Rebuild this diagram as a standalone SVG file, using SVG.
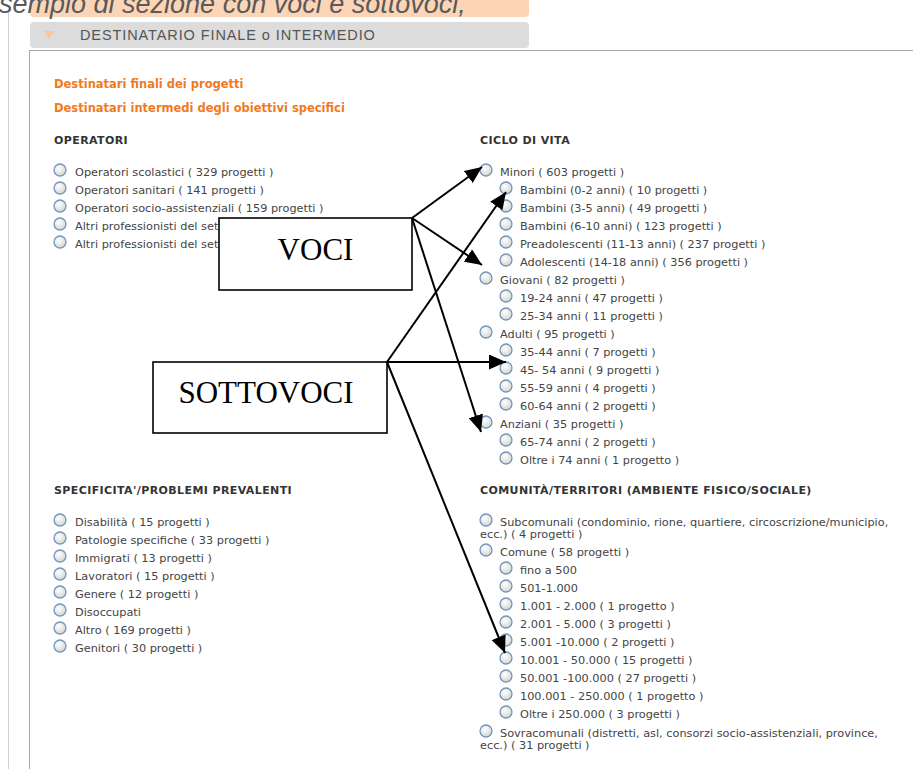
<svg xmlns="http://www.w3.org/2000/svg" xmlns:xlink="http://www.w3.org/1999/xlink" width="913" height="769" viewBox="0 0 913 769">
<style>
.cap{font-family:"Liberation Sans",Arial,sans-serif;font-style:italic;font-size:27px;fill:#5a5a5a}
.bar{font-family:"Liberation Sans",Arial,sans-serif;font-size:14.5px;letter-spacing:0.9px;fill:#555}
.or{font-family:"DejaVu Sans",Verdana,sans-serif;font-weight:bold;font-size:11.5px;fill:#f07a22}
.hd{font-family:"DejaVu Sans",Verdana,sans-serif;font-weight:bold;font-size:11px;letter-spacing:0.4px;fill:#333}
.it{font-family:"DejaVu Sans",Verdana,sans-serif;font-size:11.3px;fill:#444}
.lbl{font-family:"Liberation Serif","Times New Roman",serif;font-size:31px;fill:#000;text-anchor:middle}
.box{fill:#fff;stroke:#000;stroke-width:1.6}
.con{stroke:#000;stroke-width:2;fill:none;marker-end:url(#ah)}
</style>
<defs>
<radialGradient id="rg" cx="0.4" cy="0.35" r="0.7">
<stop offset="0" stop-color="#ffffff"/>
<stop offset="1" stop-color="#d2d2ce"/>
</radialGradient>
<g id="radio"><circle r="6" fill="url(#rg)" stroke="#7496bb" stroke-width="1.3"/></g>
<marker id="ah" markerUnits="userSpaceOnUse" markerWidth="18" markerHeight="15" refX="17" refY="7.5" orient="auto"><path d="M0,0 L17,7.5 L0,15 z" fill="#000"/></marker>
</defs>
<rect width="913" height="769" fill="#fff"/>

<g id="frame">
<line x1="8.5" y1="10" x2="8.5" y2="769" stroke="#cfcfcf" stroke-width="1"/>
<line x1="29.5" y1="50" x2="29.5" y2="769" stroke="#a8a8a8" stroke-width="1"/>
<line x1="29.5" y1="50.5" x2="913" y2="50.5" stroke="#a8a8a8" stroke-width="1"/>
<rect x="30" y="-10" width="499" height="27" rx="4" fill="#fcd5b6"/>
<rect x="30" y="22" width="499" height="26" rx="4" fill="#dcdcdc"/>
<polygon points="44,31 54,31 49,39" fill="#f7c7a1"/>
<text class="bar" x="80" y="40">DESTINATARIO FINALE o INTERMEDIO</text>
<text class="cap" x="-19" y="13">Esempio di sezione con voci e sottovoci,</text>
</g>

<g id="intro">
<text class="or" x="54" y="88">Destinatari finali dei progetti</text>
<text class="or" x="54" y="112">Destinatari intermedi degli obiettivi specifici</text>
</g>

<g id="operatori">
<text class="hd" x="54" y="144">OPERATORI</text>
<use href="#radio" x="60" y="170"/><text class="it" x="75" y="175.5">Operatori scolastici ( 329 progetti )</text>
<use href="#radio" x="60" y="188"/><text class="it" x="75" y="193.5">Operatori sanitari ( 141 progetti )</text>
<use href="#radio" x="60" y="206"/><text class="it" x="75" y="211.5">Operatori socio-assistenziali ( 159 progetti )</text>
<use href="#radio" x="60" y="224"/><text class="it" x="75" y="229.5">Altri professionisti del set</text>
<use href="#radio" x="60" y="242"/><text class="it" x="75" y="247.5">Altri professionisti del set</text>
</g>

<g id="ciclo">
<text class="hd" x="480" y="144">CICLO DI VITA</text>
<use href="#radio" x="486" y="170"/><text class="it" x="500" y="175.5">Minori ( 603 progetti )</text>
<use href="#radio" x="506" y="188"/><text class="it" x="520" y="193.5">Bambini (0-2 anni) ( 10 progetti )</text>
<use href="#radio" x="506" y="206"/><text class="it" x="520" y="211.5">Bambini (3-5 anni) ( 49 progetti )</text>
<use href="#radio" x="506" y="224"/><text class="it" x="520" y="229.5">Bambini (6-10 anni) ( 123 progetti )</text>
<use href="#radio" x="506" y="242"/><text class="it" x="520" y="247.5">Preadolescenti (11-13 anni) ( 237 progetti )</text>
<use href="#radio" x="506" y="260"/><text class="it" x="520" y="265.5">Adolescenti (14-18 anni) ( 356 progetti )</text>
<use href="#radio" x="486" y="278"/><text class="it" x="500" y="283.5">Giovani ( 82 progetti )</text>
<use href="#radio" x="506" y="296"/><text class="it" x="520" y="301.5">19-24 anni ( 47 progetti )</text>
<use href="#radio" x="506" y="314"/><text class="it" x="520" y="319.5">25-34 anni ( 11 progetti )</text>
<use href="#radio" x="486" y="332"/><text class="it" x="500" y="337.5">Adulti ( 95 progetti )</text>
<use href="#radio" x="506" y="350"/><text class="it" x="520" y="355.5">35-44 anni ( 7 progetti )</text>
<use href="#radio" x="506" y="368"/><text class="it" x="520" y="373.5">45- 54 anni ( 9 progetti )</text>
<use href="#radio" x="506" y="386"/><text class="it" x="520" y="391.5">55-59 anni ( 4 progetti )</text>
<use href="#radio" x="506" y="404"/><text class="it" x="520" y="409.5">60-64 anni ( 2 progetti )</text>
<use href="#radio" x="486" y="422"/><text class="it" x="500" y="427.5">Anziani ( 35 progetti )</text>
<use href="#radio" x="506" y="440"/><text class="it" x="520" y="445.5">65-74 anni ( 2 progetti )</text>
<use href="#radio" x="506" y="458"/><text class="it" x="520" y="463.5">Oltre i 74 anni ( 1 progetto )</text>
</g>

<g id="specificita">
<text class="hd" x="54" y="494">SPECIFICITA'/PROBLEMI PREVALENTI</text>
<use href="#radio" x="60" y="520"/><text class="it" x="75" y="525.5">Disabilità ( 15 progetti )</text>
<use href="#radio" x="60" y="538"/><text class="it" x="75" y="543.5">Patologie specifiche ( 33 progetti )</text>
<use href="#radio" x="60" y="556"/><text class="it" x="75" y="561.5">Immigrati ( 13 progetti )</text>
<use href="#radio" x="60" y="574"/><text class="it" x="75" y="579.5">Lavoratori ( 15 progetti )</text>
<use href="#radio" x="60" y="592"/><text class="it" x="75" y="597.5">Genere ( 12 progetti )</text>
<use href="#radio" x="60" y="610"/><text class="it" x="75" y="615.5">Disoccupati</text>
<use href="#radio" x="60" y="628"/><text class="it" x="75" y="633.5">Altro ( 169 progetti )</text>
<use href="#radio" x="60" y="646"/><text class="it" x="75" y="651.5">Genitori ( 30 progetti )</text>
</g>

<g id="comunita">
<text class="hd" x="480" y="494">COMUNITÀ/TERRITORI (AMBIENTE FISICO/SOCIALE)</text>
<use href="#radio" x="486" y="520"/><text class="it" x="500" y="525.5">Subcomunali (condominio, rione, quartiere, circoscrizione/municipio,</text>
<text class="it" x="480" y="538">ecc.) ( 4 progetti )</text>
<use href="#radio" x="486" y="550"/><text class="it" x="500" y="555.5">Comune ( 58 progetti )</text>
<use href="#radio" x="506" y="568"/><text class="it" x="520" y="573.5">fino a 500</text>
<use href="#radio" x="506" y="586"/><text class="it" x="520" y="591.5">501-1.000</text>
<use href="#radio" x="506" y="604"/><text class="it" x="520" y="609.5">1.001 - 2.000 ( 1 progetto )</text>
<use href="#radio" x="506" y="622"/><text class="it" x="520" y="627.5">2.001 - 5.000 ( 3 progetti )</text>
<use href="#radio" x="506" y="640"/><text class="it" x="520" y="645.5">5.001 -10.000 ( 2 progetti )</text>
<use href="#radio" x="506" y="658"/><text class="it" x="520" y="663.5">10.001 - 50.000 ( 15 progetti )</text>
<use href="#radio" x="506" y="676"/><text class="it" x="520" y="681.5">50.001 -100.000 ( 27 progetti )</text>
<use href="#radio" x="506" y="694"/><text class="it" x="520" y="699.5">100.001 - 250.000 ( 1 progetto )</text>
<use href="#radio" x="506" y="712"/><text class="it" x="520" y="717.5">Oltre i 250.000 ( 3 progetti )</text>
<use href="#radio" x="486" y="731"/><text class="it" x="500" y="736.5">Sovracomunali (distretti, asl, consorzi socio-assistenziali, province,</text>
<text class="it" x="480" y="749">ecc.) ( 31 progetti )</text>
</g>

<g id="voci">
<rect class="box" x="219" y="218" width="193" height="72"/>
<text class="lbl" x="315.5" y="260">VOCI</text>
</g>
<g id="sottovoci">
<rect class="box" x="153" y="362" width="234" height="71"/>
<text class="lbl" x="266" y="403">SOTTOVOCI</text>
</g>

<g id="connectors">
<line class="con" x1="412" y1="218" x2="482" y2="167"/>
<line class="con" x1="412" y1="218" x2="482" y2="265"/>
<line class="con" x1="412" y1="218" x2="481" y2="432"/>
<line class="con" x1="387" y1="362" x2="506" y2="192"/>
<line class="con" x1="387" y1="362" x2="506" y2="362"/>
<line class="con" x1="387" y1="362" x2="505" y2="653"/>
</g>
</svg>
